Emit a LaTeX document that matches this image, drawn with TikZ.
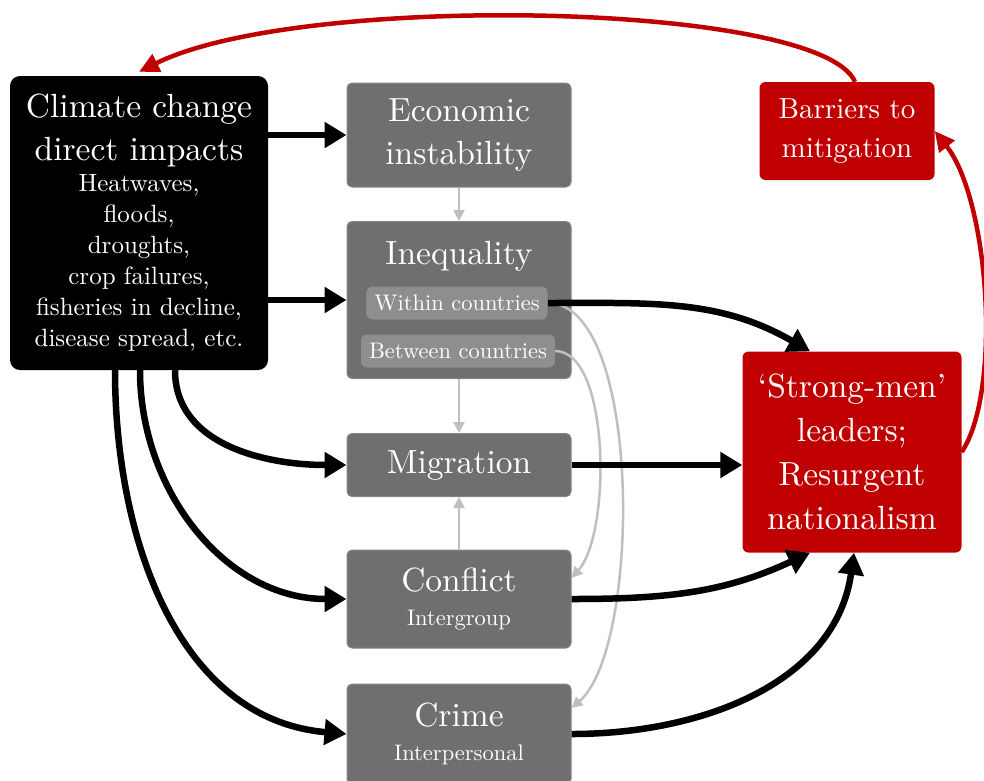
\documentclass[tikz,border=0pt]{standalone}
\usepackage{fontspec}
\setmainfont{lmroman10-regular.otf}
\usepackage{xcolor}
\usetikzlibrary{calc,arrows.meta}

\definecolor{boxgray}{HTML}{6F6F6F}
\definecolor{subgray}{HTML}{8E8E8E}
\definecolor{linkgray}{HTML}{BFBFBF}
\definecolor{darkred}{HTML}{C00000}

\newcommand{\fixspace}{\spaceskip=\fontdimen2\font\xspaceskip=\fontdimen2\font}
\newcommand{\titlesize}{\fontsize{33.5}{43}\selectfont\fixspace}
\newcommand{\barsize}{\fontsize{29}{39}\selectfont\fixspace}
\newcommand{\listsize}{\fontsize{25}{31}\selectfont\fixspace}
\newcommand{\notesize}{\fontsize{22.5}{34}\selectfont\fixspace}

\begin{document}
\begin{tikzpicture}[x=1pt,y=-1pt,
  basebox/.style={rectangle, text=white, align=center, inner sep=0pt},
  climbox/.style={basebox, fill=black, rounded corners=10pt},
  graybox/.style={basebox, fill=boxgray, draw=boxgray!85!white, line width=1pt, rounded corners=5pt, minimum width=224pt, text width=218pt},
  subbox/.style={basebox, fill=subgray, rounded corners=6pt, inner xsep=8pt, minimum height=33pt, font=\notesize},
  redbox/.style={basebox, fill=darkred, rounded corners=6pt},
  blacklink/.style={line width=6.5pt, -{Triangle[length=22pt,width=25pt]}},
  graylink/.style={draw=linkgray, line width=2.5pt, -{Triangle[length=11pt,width=11pt]}},
  redlink/.style={draw=darkred, line width=4.5pt, -{Triangle[length=20pt,width=19pt]}}]

\useasboundingbox (0,0) rectangle (984,780);

\node[climbox, minimum width=258pt, minimum height=294pt, text width=250pt] (clim) at (139,223)
  {{\titlesize Climate change\\direct impacts\par}{\listsize Heatwaves,\\floods,\\droughts,\\crop failures,\\fisheries in decline,\\disease spread, etc.\par}};

\node[graybox, minimum height=104pt] (econ) at (459,135) {\titlesize Economic\\instability\par};
\node[graybox, minimum height=157pt] (ineq) at (459,300) {};
\node[basebox, font=\titlesize] (ineqtitle) at (459,256) {Inequality};
\node[subbox] (within) at (457,303) {Within countries};
\node[subbox] (between) at (458,351) {Between countries};
\node[graybox, minimum height=63pt] (migr) at (459,465) {\titlesize Migration\par};
\node[graybox, minimum height=98pt] (conf) at (459,599) {{\titlesize Conflict\par}{\notesize Intergroup\par}};
\node[graybox, minimum height=100pt] (crime) at (459,734) {{\titlesize Crime\par}{\notesize Interpersonal\par}};

\node[redbox, minimum width=175pt, minimum height=98pt, text width=170pt] (barr) at (847,131) {\barsize Barriers to\\mitigation\par};
\node[redbox, minimum width=219pt, minimum height=201pt, text width=212pt] (strong) at (852,452)
  {\titlesize\baselineskip=44pt ‘Strong-men’\\leaders;\\Resurgent\\nationalism\par};

\draw[graylink] (econ.south) -- (ineq.north);
\draw[graylink] (ineq.south) -- (migr.north);
\draw[graylink] (conf.north) -- (migr.south);
\draw[graylink] (within.east) .. controls +(95,0) and +(70,-60) .. ([yshift=26pt]crime.east);
\draw[graylink] (between.east) .. controls +(55,0) and +(40,-45) .. ([yshift=21pt]conf.east);

\draw[blacklink] (clim.east |- econ.west) -- (econ.west);
\draw[blacklink] (clim.east |- ineq.west) -- (ineq.west);
\draw[blacklink] ([xshift=36pt]clim.south) to[out=-90,in=180] (migr.west);
\draw[blacklink] ([xshift=1pt]clim.south) to[out=-90,in=180] (conf.west);
\draw[blacklink] ([xshift=-24pt]clim.south) to[out=-90,in=175] (crime.west);
\draw[blacklink] (within.east) to[out=0,in=150] ([xshift=-42pt]strong.north);
\draw[blacklink] (migr.east) -- (migr.east -| strong.west);
\draw[blacklink] (conf.east) to[out=0,in=205] ([xshift=-42pt]strong.south);
\draw[blacklink] (crime.east) to[out=0,in=262] ([xshift=2pt]strong.south);

\draw[redlink] ([xshift=8pt]barr.north) .. controls +(-35,-80) and +(161,-80) .. ([yshift=4pt]clim.north);
\draw[redlink] (strong.east) .. controls +(40,-60) and +(55,70) .. (barr.east);

\end{tikzpicture}
\end{document}
